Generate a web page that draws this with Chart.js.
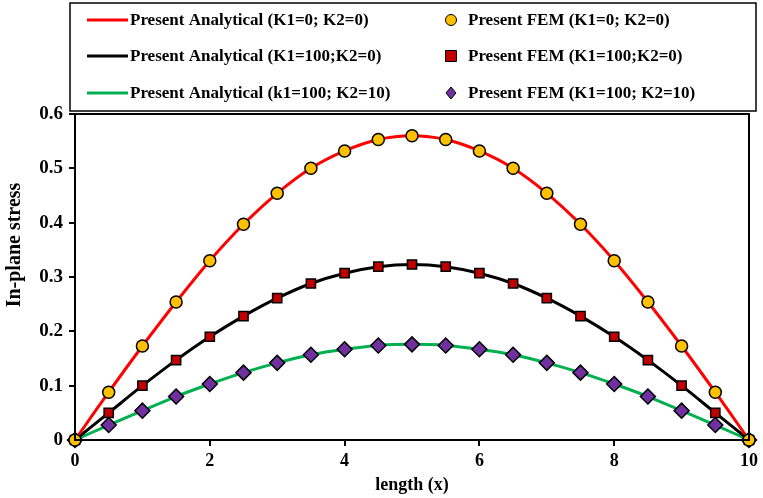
<!DOCTYPE html>
<html>
<head>
<meta charset="utf-8">
<script src="https://cdn.jsdelivr.net/npm/chart.js@4/dist/chart.umd.min.js"></script>
<style>
  html, body { margin: 0; padding: 0; background: #fff; }
  #wrap { width: 763px; height: 498px; }
</style>
</head>
<body>
<div id="wrap"><canvas id="myChart"></canvas></div>
<script>
// data
const xs = [0, 0.5, 1, 1.5, 2, 2.5, 3, 3.5, 4, 4.5, 5, 5.5, 6, 6.5, 7, 7.5, 8, 8.5, 9, 9.5, 10]
const stressK0 = [0, 0.088, 0.173, 0.254, 0.33, 0.397, 0.454, 0.5, 0.532, 0.553, 0.56,
    0.553, 0.532, 0.5, 0.454, 0.397, 0.33, 0.254, 0.173, 0.088, 0]
const stressK100 = [0, 0.05, 0.1, 0.147, 0.19, 0.228, 0.261, 0.288, 0.307, 0.319, 0.323,
    0.319, 0.307, 0.288, 0.261, 0.228, 0.19, 0.147, 0.1, 0.05, 0]
const stressK100K10 = [0, 0.0275, 0.054, 0.08, 0.103, 0.124, 0.142, 0.157, 0.167, 0.174, 0.176,
    0.174, 0.167, 0.157, 0.142, 0.124, 0.103, 0.08, 0.054, 0.0275, 0]
const xTicks = [0, 2, 4, 6, 8, 10]
const yTicks = [0, 0.1, 0.2, 0.3, 0.4, 0.5, 0.6]

const lineLabels = ['Present Analytical (K1=0; K2=0)', 'Present Analytical (K1=100;K2=0)', 'Present Analytical (k1=100; K2=10)']
const femLabels = ['Present FEM (K1=0; K2=0)', 'Present FEM (K1=100;K2=0)', 'Present FEM (K1=100; K2=10)']
const yTitle = 'In-plane stress'

const FONT = '"Liberation Serif", "Times New Roman", serif'
const pts = arr => arr.map((y, i) => ({ x: xs[i], y }))

const lineColors = ['#ff0000', '#000000', '#00b050']
const femColors = ['#ffc000', '#c00000', '#7030a0']
const femStyles = ['circle', 'rect', 'rectRot']
const femRadius = [6, 6.5, 7.5]
const series = [stressK0, stressK100, stressK100K10]

const datasets = []
series.forEach((s, i) => {
    datasets.push({
        label: lineLabels[i],
        data: pts(s),
        borderColor: lineColors[i],
        borderWidth: 3,
        pointRadius: 0,
        cubicInterpolationMode: 'monotone',
        fill: false,
        order: 2,
        clip: false
    })
})
series.forEach((s, i) => {
    datasets.push({
        label: femLabels[i],
        data: pts(s),
        showLine: false,
        pointStyle: femStyles[i],
        pointRadius: femRadius[i],
        pointBackgroundColor: femColors[i],
        pointBorderColor: '#000',
        pointBorderWidth: 1.5,
        order: 1,
        clip: false
    })
})

// box around plot, y title and two-column legend
const boxLegend = {
    id: 'boxLegend',
    afterDraw(chart) {
        const { ctx, chartArea: a } = chart
        ctx.save()
        ctx.strokeStyle = '#000'
        ctx.lineWidth = 2
        ctx.strokeRect(a.left, a.top, a.right - a.left, a.bottom - a.top)

        // y axis title (sits a bit above the middle in the original)
        ctx.save()
        ctx.translate(15, 245)
        ctx.rotate(-Math.PI / 2)
        ctx.font = 'bold 20px ' + FONT
        ctx.fillStyle = '#000'
        ctx.textAlign = 'center'
        ctx.textBaseline = 'middle'
        ctx.fillText(yTitle, 0, 0)
        ctx.restore()

        // legend frame
        ctx.lineWidth = 1.5
        ctx.strokeRect(70, 3, 686, 108)

        const rows = [20, 56, 93]
        ctx.font = 'bold 17px ' + FONT
        ctx.textBaseline = 'middle'
        rows.forEach((y, i) => {
            ctx.strokeStyle = lineColors[i]
            ctx.lineWidth = 3
            ctx.beginPath()
            ctx.moveTo(87, y)
            ctx.lineTo(128, y)
            ctx.stroke()
            ctx.fillStyle = '#000'
            ctx.fillText(lineLabels[i], 130, y + 1)

            const mx = 451
            ctx.fillStyle = femColors[i]
            ctx.strokeStyle = '#000'
            ctx.lineWidth = 1
            ctx.beginPath()
            if (i === 0) ctx.arc(mx, y, 5.5, 0, Math.PI * 2)
            else if (i === 1) ctx.rect(mx - 5.5, y - 5.5, 11, 11)
            else { ctx.moveTo(mx, y - 6); ctx.lineTo(mx + 5, y); ctx.lineTo(mx, y + 6); ctx.lineTo(mx - 5, y); ctx.closePath() }
            ctx.fill()
            ctx.stroke()
            ctx.fillStyle = '#000'
            ctx.fillText(femLabels[i], 468, y + 1)
        })
        ctx.restore()
    }
}

new Chart(document.getElementById('myChart'), {
    type: 'line',
    data: { datasets },
    options: {
        responsive: true,
        maintainAspectRatio: false,
        animation: false,
        layout: { padding: { top: 114, right: 11, left: 0, bottom: 0 } },
        plugins: {
            legend: { display: false },
            tooltip: { enabled: false }
        },
        scales: {
            x: {
                type: 'linear',
                min: 0,
                max: 10,
                afterFit: s => { s.height = 58 },
                afterBuildTicks: s => { s.ticks = xTicks.map(v => ({ value: v })) },
                grid: { drawOnChartArea: false, drawTicks: true, tickLength: 6, color: '#000', lineWidth: 2 },
                border: { display: true, color: '#000', width: 2 },
                ticks: { color: '#000', font: { family: FONT, size: 18, weight: 'bold' }, padding: 5, maxRotation: 0 },
                title: { display: true, text: 'length (x)', color: '#000', font: { family: FONT, size: 18, weight: 'bold' }, padding: { top: 0, bottom: 2 } }
            },
            y: {
                min: 0,
                max: 0.6,
                afterFit: s => { s.width = 75 },
                afterBuildTicks: s => { s.ticks = yTicks.map(v => ({ value: v })) },
                grid: { drawOnChartArea: false, drawTicks: true, tickLength: 6, color: '#000', lineWidth: 2 },
                border: { display: true, color: '#000', width: 2 },
                ticks: { color: '#000', font: { family: FONT, size: 19, weight: 'bold' }, padding: 6 }
            }
        }
    },
    plugins: [boxLegend]
})
</script>
</body>
</html>
